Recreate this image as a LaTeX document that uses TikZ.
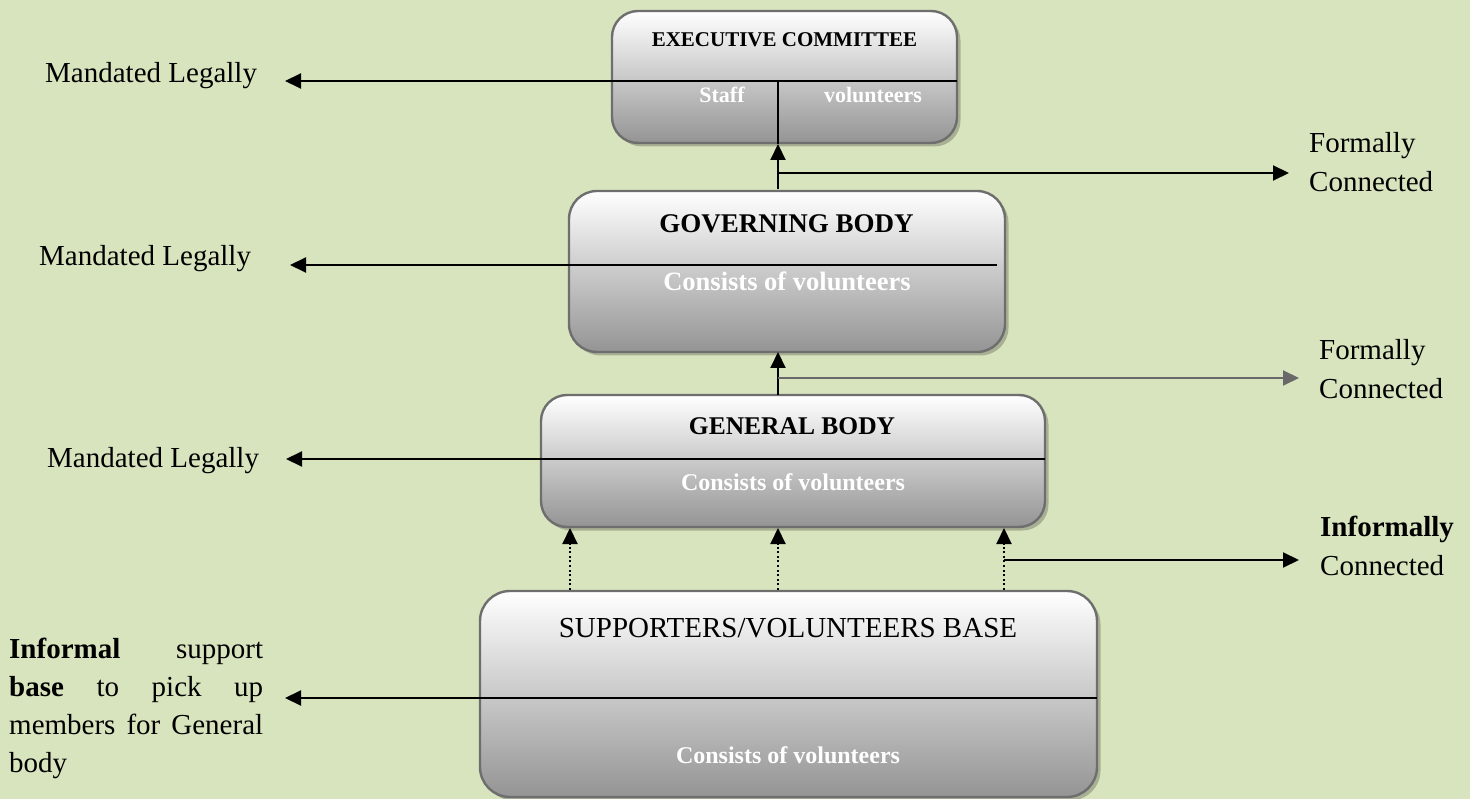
\documentclass[tikz,border=0pt]{standalone}
\usepackage{fontspec}
\setmainfont{Liberation Serif}
\usetikzlibrary{arrows.meta,shadows}

\definecolor{bg}{RGB}{216,228,189}
\definecolor{boxedge}{RGB}{110,110,110}
\definecolor{boxbottom}{RGB}{148,148,148}
\definecolor{boxshadow}{RGB}{160,168,140}
\definecolor{greyline}{RGB}{105,105,105}

\tikzset{
  tier/.style={draw=boxedge, line width=2.4pt, rounded corners=26pt,
    top color=white, bottom color=boxbottom,
    drop shadow={shadow xshift=3.5pt, shadow yshift=-3.5pt, fill=boxshadow, opacity=0.85},
    inner sep=0pt},
  conn/.style={line width=2pt},
  arr/.style={conn, -{Triangle[length=16pt,width=15pt]}},
  dotarr/.style={arr, dash pattern=on 2pt off 2.6pt},
  lbl/.style={font=\fontsize{29}{38}\selectfont, inner sep=0pt, anchor=base west},
  side/.style={font=\fontsize{29}{39}\selectfont, inner sep=0pt, anchor=base west,
    text width=170pt, align=left},
  title/.style={inner sep=0pt, anchor=base},
  sub/.style={inner sep=0pt, anchor=base, text=white},
}

\begin{document}
\begin{tikzpicture}[x=1pt, y=-1pt]
  % canvas
  \fill[bg] (0,0) rectangle (1470,799);
  \useasboundingbox (0,0) rectangle (1470,799);

  % the four tiers
  \node[tier, minimum width=345pt, minimum height=132pt] (exec) at (784.5,77) {};
  \node[tier, minimum width=436pt, minimum height=161pt, rounded corners=28pt] (gov) at (787,271.5) {};
  \node[tier, minimum width=504pt, minimum height=132pt] (gen) at (793,461) {};
  \node[tier, minimum width=617pt, minimum height=206pt, rounded corners=30pt] (sup) at (788.5,694) {};

  % tier texts
  \node[title, font=\bfseries\fontsize{21}{25}\selectfont] (exectitle) at (784.5,47) {EXECUTIVE COMMITTEE};
  \node[sub, font=\bfseries\fontsize{22}{26}\selectfont] (staff) at (722,103) {Staff};
  \node[sub, font=\bfseries\fontsize{22}{26}\selectfont] (execvol) at (873,103) {volunteers};

  \node[title, font=\bfseries\fontsize{27}{32}\selectfont] (govtitle) at (786.5,233) {GOVERNING BODY};
  \node[sub, font=\bfseries\fontsize{26.5}{32}\selectfont] (govsub) at (787,291) {Consists of volunteers};

  \node[title, font=\bfseries\fontsize{25.5}{30}\selectfont] (gentitle) at (792,435) {GENERAL BODY};
  \node[sub, font=\bfseries\fontsize{24}{29}\selectfont] (gensub) at (793,490) {Consists of volunteers};

  \node[title, font=\fontsize{29}{34}\selectfont] (suptitle) at (788,637) {SUPPORTERS/VOLUNTEERS BASE};
  \node[sub, font=\bfseries\fontsize{24}{29}\selectfont] (supsub) at (788,763) {Consists of volunteers};

  % left-hand labels
  \node[lbl] (ml1) at (45,83) {Mandated Legally};
  \node[lbl] (ml2) at (39,266) {Mandated Legally};
  \node[lbl] (ml3) at (47,467) {Mandated Legally};
  \node[inner sep=0pt, anchor=base west, text width=254pt, align=justify,
        font=\fontsize{29}{38}\selectfont] (basetext) at (9,658)
    {\tolerance=10000\hyphenpenalty=10000
     \textbf{Informal} support\linebreak
     \textbf{base} to pick up\linebreak
     members for General\linebreak
     body};

  % right-hand labels
  \node[side] (fc1) at (1309,153) {Formally\\Connected};
  \node[side] (fc2) at (1319,360) {Formally\\Connected};
  \node[side] (ic) at (1320,536) {\textbf{Informally}\\Connected};

  % connector points
  \coordinate (m1r) at (957,81);   \coordinate (m1l) at (285,81);
  \coordinate (m2r) at (997,265);  \coordinate (m2l) at (290,265);
  \coordinate (m3r) at (1045,459); \coordinate (m3l) at (286,459);
  \coordinate (m4r) at (1097,698); \coordinate (m4l) at (285,698);

  \coordinate (v1top) at (778,81);  \coordinate (v1tip) at (778,144);
  \coordinate (v1foot) at (778,189);
  \coordinate (h1a) at (778,173);   \coordinate (h1b) at (1289,173);

  \coordinate (v2foot) at (778,395); \coordinate (v2tip) at (778,352);
  \coordinate (h2a) at (778,378);   \coordinate (h2b) at (1299,378);

  \coordinate (d1a) at (570,590);   \coordinate (d1b) at (570,528);
  \coordinate (d2a) at (778,590);   \coordinate (d2b) at (778,528);
  \coordinate (d3a) at (1004,590);  \coordinate (d3b) at (1004,528);
  \coordinate (h3a) at (1004,560);  \coordinate (h3b) at (1299,560);

  % mandates to the left
  \draw[arr] (m1r) -- (m1l);
  \draw[arr] (m2r) -- (m2l);
  \draw[arr] (m3r) -- (m3l);
  \draw[arr] (m4r) -- (m4l);

  % governing body -> executive committee
  \draw[conn] (v1tip) -- (v1top);
  \draw[arr] (v1foot) -- (v1tip);
  \draw[arr] (h1a) -- (h1b);

  % general body -> governing body
  \draw[arr] (v2foot) -- (v2tip);
  \draw[arr, draw=greyline, fill=greyline] (h2a) -- (h2b);

  % supporters -> general body (informal)
  \draw[dotarr] (d1a) -- (d1b);
  \draw[dotarr] (d2a) -- (d2b);
  \draw[dotarr] (d3a) -- (d3b);
  \draw[arr] (h3a) -- (h3b);
\end{tikzpicture}
\end{document}
